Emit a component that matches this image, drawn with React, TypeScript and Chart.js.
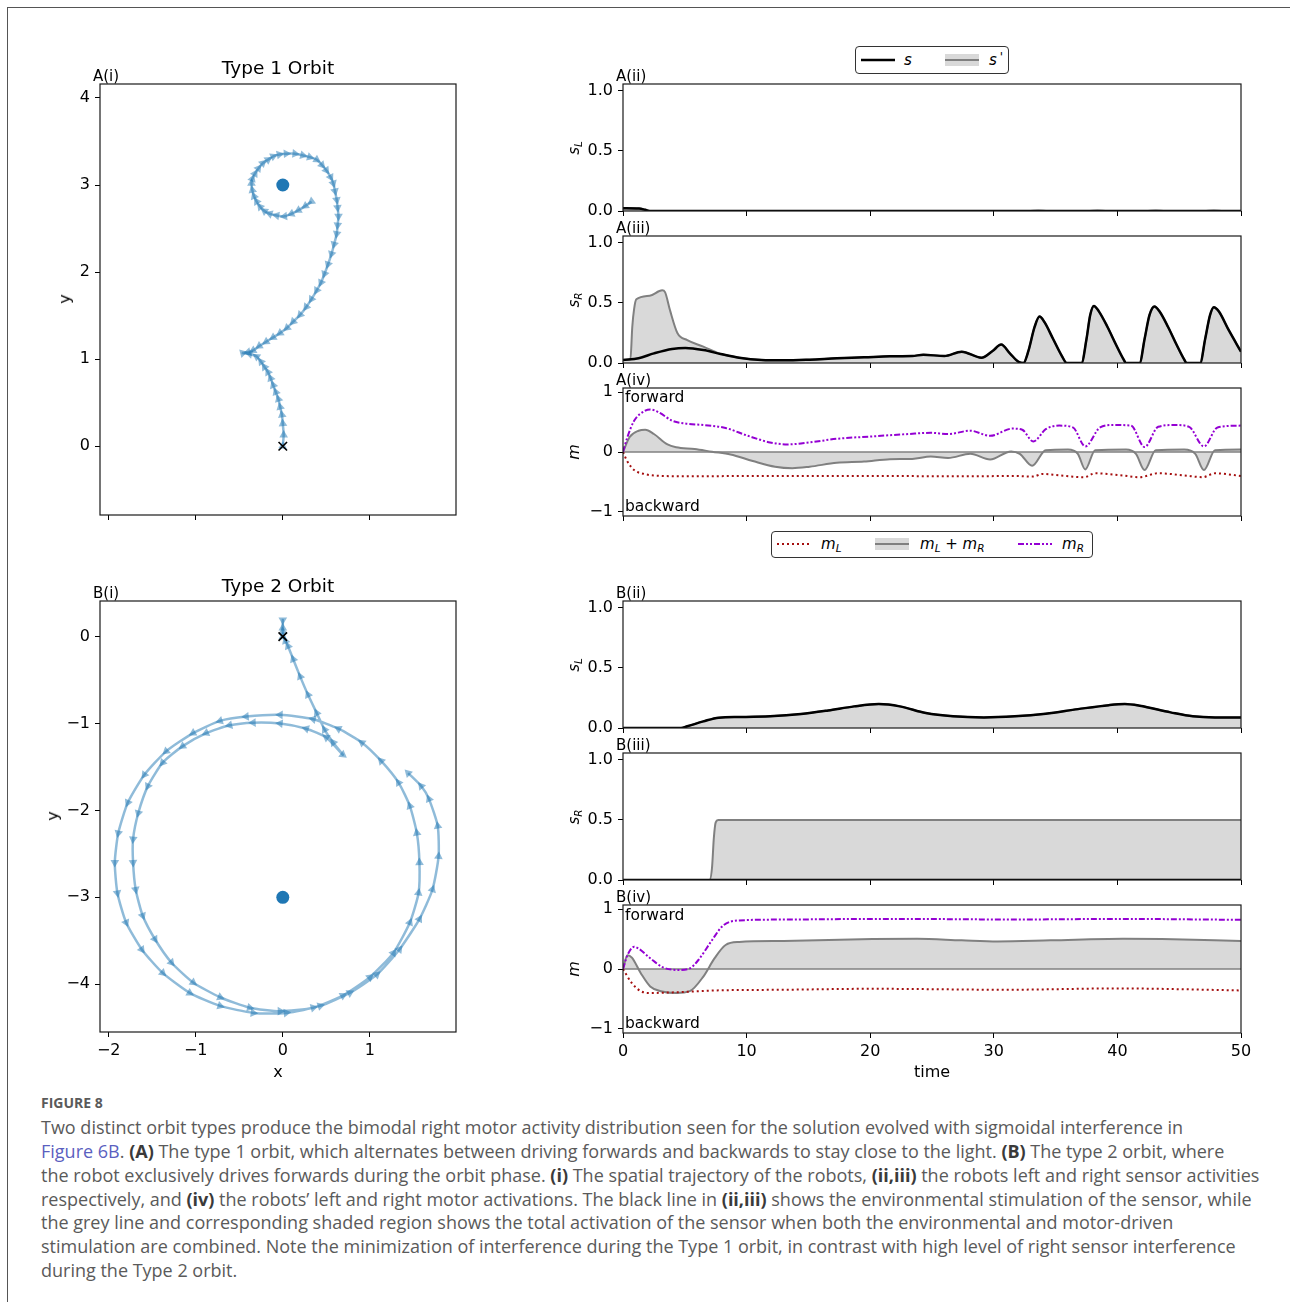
import React, { useEffect, useRef } from "react";
import { Chart, registerables } from "chart.js";
Chart.register(...registerables);

// ---------------- DATA ----------------
const TIME_TICKS = [0, 10, 20, 30, 40, 50];
const S_TICKS = [0, 0.5, 1];
const M_TICKS = [-1, 0, 1];
const ORBIT_X_TICKS = [-2, -1, 0, 1];
const ORBIT1_Y_TICKS = [0, 1, 2, 3, 4];
const ORBIT2_Y_TICKS = [-4, -3, -2, -1, 0];

const LIGHT1: [number, number] = [0, 3];
const LIGHT2: [number, number] = [0, -3];
const START: [number, number] = [0, 0];

// Type 1 orbit (x, y) — forward leg then backward leg
const orbit1Forward: [number, number][] = [
  [0, 0], [0.01, 0.13], [0.0, 0.26], [-0.01, 0.36], [-0.03, 0.45], [-0.05, 0.54], [-0.08, 0.62],
  [-0.11, 0.7], [-0.14, 0.78], [-0.17, 0.85], [-0.21, 0.91], [-0.25, 0.97], [-0.3, 1.03], [-0.38, 1.06], [-0.46, 1.07],
];
const orbit1Backward: [number, number][] = [
  [-0.4, 1.08], [-0.34, 1.1], [-0.27, 1.15], [-0.19, 1.2], [-0.11, 1.25], [-0.03, 1.3], [0.05, 1.36], [0.12, 1.43],
  [0.2, 1.51], [0.27, 1.6], [0.33, 1.69], [0.39, 1.79], [0.44, 1.88], [0.48, 1.98], [0.52, 2.09], [0.56, 2.21],
  [0.59, 2.32], [0.62, 2.44], [0.63, 2.54], [0.64, 2.64], [0.63, 2.74], [0.62, 2.83], [0.6, 2.93], [0.58, 3.02],
  [0.55, 3.09], [0.5, 3.17], [0.45, 3.23], [0.39, 3.29], [0.31, 3.32], [0.23, 3.34], [0.14, 3.36], [0.04, 3.36],
  [-0.04, 3.35], [-0.11, 3.33], [-0.17, 3.29], [-0.23, 3.25], [-0.28, 3.19], [-0.32, 3.13], [-0.35, 3.07],
  [-0.36, 3.02], [-0.35, 2.94], [-0.33, 2.87], [-0.3, 2.81], [-0.26, 2.75], [-0.21, 2.7], [-0.15, 2.67],
  [-0.07, 2.65], [0.02, 2.64], [0.1, 2.67], [0.18, 2.71], [0.26, 2.76], [0.33, 2.81],
];

// Type 2 orbit (x, y)
const orbit2Start: [number, number][] = [[0, 0], [0, 0.1], [0, 0.19]];
const orbit2Backward: [number, number][] = [
  [0, 0.06], [0.03, -0.05], [0.06, -0.11], [0.12, -0.26], [0.2, -0.46], [0.29, -0.67], [0.39, -0.88],
  [0.48, -1.07], [0.58, -1.22], [0.69, -1.36],
];
const orbit2Orbit: [number, number][] = [
  [0.5, -1.16], [0.27, -1.06], [-0.03, -1.0], [-0.34, -0.99], [-0.61, -1.02], [-0.88, -1.11], [-1.15, -1.26],
  [-1.38, -1.45], [-1.55, -1.72], [-1.66, -2.03], [-1.72, -2.33], [-1.72, -2.6], [-1.69, -2.91], [-1.61, -3.21],
  [-1.47, -3.48], [-1.28, -3.75], [-1.03, -3.98], [-0.72, -4.15], [-0.38, -4.27], [-0.03, -4.31], [0.35, -4.27],
  [0.69, -4.13], [1.0, -3.92], [1.27, -3.64], [1.46, -3.29], [1.56, -2.95], [1.57, -2.6], [1.54, -2.26],
  [1.46, -1.95], [1.33, -1.68], [1.13, -1.43], [0.91, -1.22], [0.64, -1.06], [0.35, -0.95], [-0.03, -0.9],
  [-0.42, -0.92], [-0.72, -0.97], [-1.03, -1.11], [-1.34, -1.32], [-1.59, -1.59], [-1.78, -1.91], [-1.89, -2.26],
  [-1.93, -2.6], [-1.9, -2.95], [-1.8, -3.29], [-1.62, -3.6], [-1.38, -3.87], [-1.07, -4.1], [-0.72, -4.25],
  [-0.34, -4.33], [0.04, -4.33], [0.43, -4.25], [0.77, -4.1], [1.08, -3.89], [1.34, -3.6], [1.57, -3.25],
  [1.72, -2.91], [1.79, -2.53], [1.78, -2.18], [1.68, -1.87], [1.59, -1.72], [1.44, -1.57],
];

// Time series: [time, value]
const aSL_s: [number, number][] = [[0, 0.022], [1.3, 0.02], [1.8, 0.01], [2.2, 0], [50, 0]];
const aSL_sp: [number, number][] = [
  [0, 0.022], [1.3, 0.02], [1.8, 0.01], [2.2, 0], [32.8, 0], [33.6, 0.005], [34.4, 0], [37.6, 0], [38.4, 0.005],
  [39.2, 0], [42.3, 0], [43.1, 0.005], [43.9, 0], [47.0, 0], [47.8, 0.005], [48.6, 0], [50, 0],
];
const aSR_s: [number, number][] = [
  [0, 0.025], [1.26, 0.039], [2.5, 0.08], [3.97, 0.117], [5.05, 0.125], [6.5, 0.108], [7.9, 0.075], [9.4, 0.044],
  [11.2, 0.025], [13, 0.022], [15.1, 0.028], [17.3, 0.039], [19.5, 0.047], [21.6, 0.056], [23.4, 0.058],
  [24.3, 0.069], [26, 0.058], [27.4, 0.094], [29, 0.044], [29.9, 0.1], [30.6, 0.153], [31.3, 0.08], [32.0, 0.01],
  [32.4, 0], [32.8, 0.1], [33.3, 0.3], [33.7, 0.386], [34.1, 0.34], [34.8, 0.2], [35.5, 0.06], [35.9, 0],
  [37.1, 0], [37.5, 0.2], [37.8, 0.4], [38.1, 0.475], [38.5, 0.43], [39.2, 0.3], [39.9, 0.15], [40.5, 0.03],
  [40.7, 0], [41.8, 0], [42.2, 0.2], [42.6, 0.4], [43.0, 0.47], [43.4, 0.43], [44.1, 0.3], [44.8, 0.15],
  [45.4, 0.03], [45.6, 0], [46.7, 0], [47.1, 0.2], [47.5, 0.4], [47.8, 0.464], [48.2, 0.43], [49.0, 0.275],
  [50, 0.094],
];
const aSR_spEarly: [number, number][] = [
  [0, 0.025], [0.6, 0.03], [0.75, 0.3], [0.9, 0.45], [1.08, 0.53], [2.16, 0.56], [3.17, 0.605], [3.4, 0.59],
  [3.8, 0.44], [4.4, 0.25], [5.2, 0.19], [6.5, 0.136], [7.75, 0.08],
];
const aML: [number, number][] = [
  [0, 0], [0.36, -0.16], [0.9, -0.3], [1.8, -0.37], [3.2, -0.4], [5.8, -0.405], [10, -0.4], [20, -0.4],
  [28, -0.405], [31.7, -0.4], [33.2, -0.41], [33.9, -0.366], [35.3, -0.39], [37.3, -0.42], [38.2, -0.355],
  [40.4, -0.39], [41.8, -0.42], [43.3, -0.355], [45.4, -0.39], [46.9, -0.42], [47.9, -0.355], [50, -0.4],
];
const aMR: [number, number][] = [
  [0, 0], [0.36, 0.25], [0.9, 0.52], [1.8, 0.69], [2.2, 0.71], [2.9, 0.66], [4.0, 0.52], [5.0, 0.475],
  [6.5, 0.45], [8.3, 0.4], [10.1, 0.27], [11.9, 0.16], [13.3, 0.126], [15.1, 0.16], [17.3, 0.22], [20.2, 0.26],
  [23.1, 0.3], [24.9, 0.32], [26.3, 0.3], [28.1, 0.355], [29.7, 0.27], [31.5, 0.39], [32.3, 0.37], [33.2, 0.175],
  [34.2, 0.38], [35.3, 0.44], [36.4, 0.41], [37.4, 0.093], [38.6, 0.41], [39.7, 0.45], [41.1, 0.44],
  [42.2, 0.082], [43.3, 0.42], [44.7, 0.45], [45.8, 0.42], [47.0, 0.093], [48.1, 0.41], [50, 0.44],
];
const aMSum: [number, number][] = [
  [0, 0], [0.54, 0.25], [1.26, 0.355], [1.8, 0.37], [2.5, 0.3], [3.6, 0.126], [4.3, 0.08], [5.8, 0.05],
  [7.2, 0.005], [8.7, -0.04], [10.5, -0.15], [12.3, -0.245], [13.7, -0.27], [15.1, -0.245], [17.3, -0.18],
  [19.5, -0.16], [21.6, -0.12], [23.4, -0.115], [24.9, -0.077], [26.3, -0.1], [28.1, -0.03], [29.7, -0.126],
  [31.4, 0.01], [32.1, -0.03], [33.1, -0.23], [34.2, 0.03], [36, 0.04], [36.8, -0.03], [37.4, -0.29],
  [38.2, 0.03], [40.7, 0.04], [41.5, -0.03], [42.2, -0.3], [43.1, 0.03], [45.4, 0.04], [46.3, -0.03],
  [47.0, -0.3], [47.9, 0.03], [50, 0.04],
];

const bSL: [number, number][] = [
  [0, 0], [4.7, 0], [5.2, 0.014], [6.5, 0.055], [7.75, 0.086], [9.4, 0.091], [11.9, 0.097], [14.4, 0.116],
  [16.6, 0.146], [18.7, 0.18], [20.7, 0.199], [22.4, 0.18], [24.5, 0.124], [26.7, 0.097], [29.2, 0.088],
  [31.7, 0.097], [34.2, 0.119], [36.8, 0.157], [39.3, 0.19], [40.6, 0.199], [41.8, 0.185], [44.3, 0.13],
  [46.1, 0.097], [47.9, 0.088], [50, 0.088],
];
const bSR_s: [number, number][] = [[0, 0], [50, 0]];
const bSR_sp: [number, number][] = [[0, 0], [7.0, 0], [7.2, 0.1], [7.35, 0.35], [7.5, 0.48], [7.7, 0.5], [50, 0.5]];
const bML: [number, number][] = [
  [0, 0], [0.72, -0.236], [1.44, -0.37], [2.2, -0.4], [4.0, -0.39], [7.6, -0.357], [13, -0.346], [20.2, -0.33],
  [31, -0.346], [40, -0.324], [50, -0.357],
];
const bMR: [number, number][] = [
  [0, 0], [0.36, 0.23], [0.9, 0.37], [1.26, 0.34], [2.2, 0.18], [3.2, 0.03], [4.5, -0.016], [5.4, 0.01],
  [6.1, 0.15], [7.2, 0.48], [8.1, 0.725], [9.4, 0.81], [13, 0.824], [20.2, 0.835], [27.4, 0.83], [31, 0.824],
  [40, 0.835], [50, 0.82],
];
const bMSum: [number, number][] = [
  [0, 0], [0.36, 0.23], [0.72, 0.19], [1.44, -0.07], [2.2, -0.29], [3.06, -0.37], [4.3, -0.4], [5.4, -0.37],
  [6.5, -0.126], [7.4, 0.176], [8.3, 0.4], [9.4, 0.45], [13, 0.467], [20.2, 0.5], [23.8, 0.505], [27.4, 0.478],
  [30.3, 0.46], [34.6, 0.478], [40.4, 0.505], [43.6, 0.5], [50, 0.467],
];

const CAPTION: [string, "n" | "b" | "l"][][] = [
  [["Two distinct orbit types produce the bimodal right motor activity distribution seen for the solution evolved with sigmoidal interference in", "n"]],
  [["Figure 6B", "l"], [". ", "n"], ["(A)", "b"], [" The type 1 orbit, which alternates between driving forwards and backwards to stay close to the light. ", "n"], ["(B)", "b"], [" The type 2 orbit, where", "n"]],
  [["the robot exclusively drives forwards during the orbit phase. ", "n"], ["(i)", "b"], [" The spatial trajectory of the robots, ", "n"], ["(ii,iii)", "b"], [" the robots left and right sensor activities", "n"]],
  [["respectively, and ", "n"], ["(iv)", "b"], [" the robots\u2019 left and right motor activations. The black line in ", "n"], ["(ii,iii)", "b"], [" shows the environmental stimulation of the sensor, while", "n"]],
  [["the grey line and corresponding shaded region shows the total activation of the sensor when both the environmental and motor-driven", "n"]],
  [["stimulation are combined. Note the minimization of interference during the Type 1 orbit, in contrast with high level of right sensor interference", "n"]],
  [["during the Type 2 orbit.", "n"]],
];
const CAPTION_Y = [1127, 1151, 1175, 1199, 1222, 1246, 1270];

// ---------------- STYLE ----------------
const FONT = "'DejaVu Sans', sans-serif";
const BLUE = "rgba(31,119,180,0.5)";
const GREY = "#808080";
const FILL = "#d9d9d9";
const RED = "#a50f0f";
const PURPLE = "#9400d3";
const M = { l: 70, t: 20, r: 25, b: 45 };

const pts = (a: [number, number][]) => a.map(([x, y]) => ({ x, y }));
const fmtMinus = (v: number, digits: number) => {
  const s = Math.abs(v).toFixed(digits);
  return v < -1e-9 ? "\u2212" + s : s;
};

const framePlugin = {
  id: "frame",
  afterDatasetsDraw(chart: any) {
    const { ctx, chartArea: a } = chart;
    ctx.save();
    ctx.strokeStyle = "#1a1a1a";
    ctx.lineWidth = 1.2;
    ctx.strokeRect(a.left, a.top, a.right - a.left, a.bottom - a.top);
    ctx.restore();
  },
};

function baseOptions(
  xMin: number, xMax: number, xTicks: number[], showX: boolean, xDigits: number,
  yMin: number, yMax: number, yTicks: number[], yDigits: number
) {
  const tickFont = { family: FONT, size: 16 };
  return {
    responsive: false,
    animation: false,
    events: [],
    layout: { padding: { left: 0, top: M.t, right: M.r, bottom: 0 } },
    plugins: { legend: { display: false }, tooltip: { enabled: false } },
    scales: {
      x: {
        type: "linear",
        min: xMin,
        max: xMax,
        afterBuildTicks: (s: any) => { s.ticks = xTicks.map((v) => ({ value: v })); },
        afterFit: (s: any) => { s.height = M.b; },
        ticks: { display: showX, font: tickFont, color: "#000", padding: 4, maxRotation: 0, autoSkip: false,
          callback: (v: any) => fmtMinus(Number(v), xDigits) },
        grid: { drawOnChartArea: false, drawTicks: true, tickLength: 5, color: "#000", lineWidth: 1 },
        border: { display: false },
      },
      y: {
        type: "linear",
        min: yMin,
        max: yMax,
        afterBuildTicks: (s: any) => { s.ticks = yTicks.map((v) => ({ value: v })); },
        afterFit: (s: any) => { s.width = M.l; },
        ticks: { font: tickFont, color: "#000", padding: 5, autoSkip: false,
          callback: (v: any) => fmtMinus(Number(v), yDigits) },
        grid: { drawOnChartArea: false, drawTicks: true, tickLength: 5, color: "#000", lineWidth: 1 },
        border: { display: false },
      },
    },
  };
}

function headings(path: [number, number][], dirs: number[]) {
  return path.map((_, i) => {
    const a = path[Math.max(0, i - 1)];
    const b = path[Math.min(path.length - 1, i + 1)];
    const ang = (Math.atan2(b[0] - a[0], b[1] - a[1]) * 180) / Math.PI;
    return dirs[i] < 0 ? ang + 180 : ang;
  });
}

function orbitConfig(legs: { pts: [number, number][]; dir: number }[], light: [number, number], yMin: number, yMax: number, yTicks: number[], showX: boolean) {
  const path: [number, number][] = [];
  const dirs: number[] = [];
  legs.forEach((l) => l.pts.forEach((p) => { path.push(p); dirs.push(l.dir); }));
  const rot = headings(path, dirs);
  return {
    type: "scatter",
    data: {
      datasets: [
        { data: [{ x: START[0], y: START[1] }], pointStyle: "crossRot", pointRadius: 6, pointBorderColor: "#000", pointBorderWidth: 1.6, pointBackgroundColor: "#000" },
        { data: [{ x: light[0], y: light[1] }], pointStyle: "circle", pointRadius: 6.5, pointBackgroundColor: "#1f77b4", pointBorderWidth: 0 },
        { data: pts(path), showLine: true, borderColor: BLUE, borderWidth: 2.5, tension: 0.2,
          pointStyle: "triangle", pointRadius: 5, pointBackgroundColor: BLUE, pointBorderWidth: 0, pointRotation: rot },
      ],
    },
    options: baseOptions(-2.1, 1.99, ORBIT_X_TICKS, showX, 0, yMin, yMax, yTicks, 0),
    plugins: [framePlugin],
  };
}

function sensorConfig(s: [number, number][], sp: [number, number][], showX: boolean) {
  return {
    type: "line",
    data: {
      datasets: [
        { data: pts(s), borderColor: "#000", borderWidth: 2.5, pointRadius: 0, cubicInterpolationMode: "monotone", fill: false },
        { data: pts(sp), borderColor: GREY, borderWidth: 2, pointRadius: 0, cubicInterpolationMode: "monotone", fill: "origin", backgroundColor: FILL },
      ],
    },
    options: baseOptions(0, 50, TIME_TICKS, showX, 0, 0, 1.057, S_TICKS, 1),
    plugins: [framePlugin],
  };
}

function motorConfig(ml: [number, number][], mr: [number, number][], sum: [number, number][], showX: boolean) {
  return {
    type: "line",
    data: {
      datasets: [
        { data: pts(mr), borderColor: PURPLE, borderWidth: 2, borderDash: [6, 2, 2, 2, 2, 2], pointRadius: 0, cubicInterpolationMode: "monotone", fill: false },
        { data: pts(ml), borderColor: RED, borderWidth: 2, borderDash: [2, 3], pointRadius: 0, cubicInterpolationMode: "monotone", fill: false },
        { data: [{ x: 0, y: 0 }, { x: 50, y: 0 }], borderColor: GREY, borderWidth: 1.5, pointRadius: 0, fill: false },
        { data: pts(sum), borderColor: GREY, borderWidth: 2, pointRadius: 0, cubicInterpolationMode: "monotone", fill: "origin", backgroundColor: FILL },
      ],
    },
    options: baseOptions(0, 50, TIME_TICKS, showX, 0, -1.067, 1.067, M_TICKS, 0),
    plugins: [framePlugin],
  };
}

// ---------------- COMPONENTS ----------------
function ChartPanel({ left, top, width, height, build }: { left: number; top: number; width: number; height: number; build: () => any }) {
  const ref = useRef<HTMLCanvasElement>(null);
  const W = width + M.l + M.r;
  const H = height + M.t + M.b;
  useEffect(() => {
    const chart = new Chart(ref.current as HTMLCanvasElement, build());
    return () => chart.destroy();
  }, []);
  return (
    <canvas ref={ref} width={W} height={H}
      style={{ position: "absolute", left: left - M.l, top: top - M.t, width: W, height: H }} />
  );
}

function T({ x, y, children, align = "left", size = 15, rotate = false, italic = false }: any) {
  const tx = align === "center" || rotate ? "-50%" : "0";
  return (
    <div style={{ position: "absolute", left: x, top: y, transform: `translate(${tx},-50%)${rotate ? " rotate(-90deg)" : ""}`,
      fontFamily: FONT, fontSize: size, lineHeight: 1, whiteSpace: "nowrap", color: "#000", fontStyle: italic ? "italic" : "normal" }}>
      {children}
    </div>
  );
}

function Sym({ base, sub, prime = false }: { base: string; sub?: string; prime?: boolean }) {
  return (
    <span style={{ fontStyle: "italic" }}>
      {base}
      {prime ? <span style={{ fontStyle: "normal", fontSize: "0.8em", position: "relative", top: "-0.35em", marginLeft: 3 }}>{"'"}</span> : null}
      {sub ? <span style={{ fontSize: "0.7em", position: "relative", top: "0.3em" }}>{sub}</span> : null}
    </span>
  );
}

function LineSample({ x, y, color, dash, width = 2, patch = false }: any) {
  return (
    <svg style={{ position: "absolute", left: x, top: y - 8 }} width={36} height={16}>
      {patch ? <rect x={1} y={2} width={34} height={12} fill={FILL} /> : null}
      <line x1={1} y1={8} x2={35} y2={8} stroke={color} strokeWidth={width} strokeDasharray={dash} />
    </svg>
  );
}

export default function App() {
  useEffect(() => {
    document.body.style.overflow = "hidden";
  }, []);
  const RX = 623, RW = 618;
  const captionColor = "#5a5a5a";
  return (
    <div style={{ position: "absolute", left: 0, top: 0, width: 1290, height: 1302, background: "#fff", overflow: "hidden" }}>
      <div style={{ position: "absolute", left: 7, top: 7, width: 1283, height: 1295, borderTop: "1px solid #555", borderLeft: "1px solid #555", boxSizing: "border-box" }} />

      {/* Left orbit panels */}
      <ChartPanel left={100} top={84} width={356} height={431}
        build={() => orbitConfig([{ pts: orbit1Forward, dir: 1 }, { pts: orbit1Backward, dir: -1 }], LIGHT1, -0.79, 4.16, ORBIT1_Y_TICKS, false)} />
      <ChartPanel left={100} top={601} width={356} height={431}
        build={() => orbitConfig([{ pts: orbit2Start, dir: 1 }, { pts: orbit2Backward, dir: -1 }, { pts: orbit2Orbit, dir: 1 }], LIGHT2, -4.55, 0.41, ORBIT2_Y_TICKS, true)} />

      {/* Right time-series panels */}
      <ChartPanel left={RX} top={84} width={RW} height={127} build={() => sensorConfig(aSL_s, aSL_sp, false)} />
      <ChartPanel left={RX} top={236} width={RW} height={127}
        build={() => sensorConfig(aSR_s, aSR_spEarly.concat(aSR_s.filter((p) => p[0] > 7.8)), false)} />
      <ChartPanel left={RX} top={388} width={RW} height={128} build={() => motorConfig(aML, aMR, aMSum, false)} />
      <ChartPanel left={RX} top={601} width={RW} height={127} build={() => sensorConfig(bSL, bSL, false)} />
      <ChartPanel left={RX} top={753} width={RW} height={127} build={() => sensorConfig(bSR_s, bSR_sp, false)} />
      <ChartPanel left={RX} top={905} width={RW} height={128} build={() => motorConfig(bML, bMR, bMSum, true)} />

      {/* Titles and panel labels */}
      <T x={278} y={68} align="center" size={18.5}>Type 1 Orbit</T>
      <T x={278} y={586} align="center" size={18.5}>Type 2 Orbit</T>
      <T x={93} y={76}>A(i)</T>
      <T x={93} y={593}>B(i)</T>
      <T x={616} y={76}>A(ii)</T>
      <T x={616} y={228}>A(iii)</T>
      <T x={616} y={380}>A(iv)</T>
      <T x={616} y={593}>B(ii)</T>
      <T x={616} y={745}>B(iii)</T>
      <T x={616} y={897}>B(iv)</T>

      {/* Axis titles */}
      <T x={65} y={299} rotate size={16}>y</T>
      <T x={53} y={816} rotate size={16}>y</T>
      <T x={278} y={1072} align="center" size={16}>x</T>
      <T x={932} y={1072} align="center" size={16}>time</T>
      <T x={574} y={148} rotate><Sym base="s" sub="L" /></T>
      <T x={574} y={300} rotate><Sym base="s" sub="R" /></T>
      <T x={574} y={452} rotate size={16}><Sym base="m" /></T>
      <T x={574} y={665} rotate><Sym base="s" sub="L" /></T>
      <T x={574} y={817} rotate><Sym base="s" sub="R" /></T>
      <T x={574} y={969} rotate size={16}><Sym base="m" /></T>

      {/* forward / backward annotations */}
      <T x={625} y={398} size={15.5}>forward</T>
      <T x={625} y={507} size={15.5}>backward</T>
      <T x={625} y={916} size={15.5}>forward</T>
      <T x={625} y={1024} size={15.5}>backward</T>

      {/* Legend 1 */}
      <div style={{ position: "absolute", left: 855, top: 46, width: 154, height: 28, border: "1.3px solid #333", borderRadius: 4, boxSizing: "border-box", background: "#fff" }}>
        <LineSample x={4} y={13} color="#000" width={2.5} />
        <T x={48} y={13}><Sym base="s" /></T>
        <LineSample x={88} y={13} color={GREY} width={2} patch />
        <T x={133} y={13}><Sym base="s" prime /></T>
      </div>

      {/* Legend 2 */}
      <div style={{ position: "absolute", left: 771, top: 531, width: 322, height: 27, border: "1.3px solid #333", borderRadius: 4, boxSizing: "border-box", background: "#fff" }}>
        <LineSample x={4} y={12} color={RED} width={2} dash="2,3" />
        <T x={49} y={12}><Sym base="m" sub="L" /></T>
        <LineSample x={102} y={12} color={GREY} width={2} patch />
        <T x={148} y={12}><Sym base="m" sub="L" /><span> + </span><Sym base="m" sub="R" /></T>
        <LineSample x={245} y={12} color={PURPLE} width={2} dash="6,2,2,2,2,2" />
        <T x={290} y={12}><Sym base="m" sub="R" /></T>
      </div>

      {/* Caption */}
      <div style={{ position: "absolute", left: 41, top: 1103, transform: "translate(0,-50%)", fontFamily: "'Open Sans', sans-serif", fontWeight: 700, fontSize: 14, color: captionColor, lineHeight: 1 }}>FIGURE 8</div>
      {CAPTION.map((line, i) => (
        <div key={i} style={{ position: "absolute", left: 41, top: CAPTION_Y[i], transform: "translate(0,-50%)",
          fontFamily: "'Open Sans', sans-serif", fontSize: 18, color: captionColor, whiteSpace: "nowrap", lineHeight: 1 }}>
          {line.map(([txt, st], j) => (
            <span key={j} style={st === "b" ? { fontWeight: 700, color: "#3a3a3a" } : st === "l" ? { color: "#5b5fc0" } : {}}>{txt}</span>
          ))}
        </div>
      ))}
    </div>
  );
}
